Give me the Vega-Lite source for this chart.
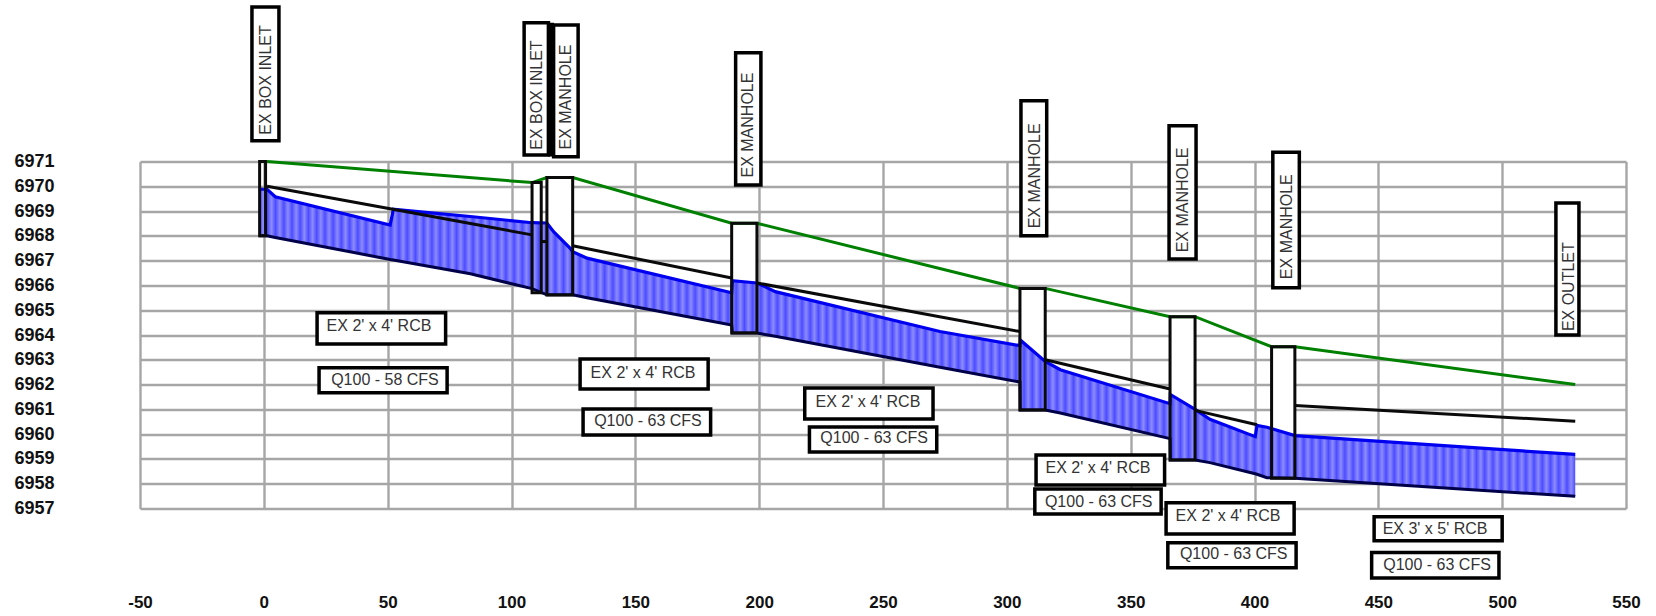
{
"$schema":"https://vega.github.io/schema/vega-lite/v6.json",
"width":1486,"height":347,"autosize":"none",
"padding":{"left":140,"top":161.5,"right":30,"bottom":107.5},
"background":"white",
"config":{"view":{"stroke":null}},
"datasets":{
"boxes":[
{"x":-1.7,"x2":0.7,"y":6971,"y2":6968},
{"x":108.3,"x2":112,"y":6970.15,"y2":6965.7},
{"x":114.3,"x2":124.7,"y":6970.35,"y2":6965.61},
{"x":188.9,"x2":199.1,"y":6968.51,"y2":6964.08},
{"x":305.3,"x2":315.5,"y":6965.88,"y2":6960.97},
{"x":365.9,"x2":376,"y":6964.74,"y2":6958.96},
{"x":406.9,"x2":416.3,"y":6963.53,"y2":6958.22}],
"water":[
{"x":-1.9,"surface":6969.88,"invert":6968},
{"x":1.3,"surface":6969.88,"invert":6968},
{"x":4.6,"surface":6969.58,"invert":6967.93},
{"x":51,"surface":6968.44,"invert":6967.05},
{"x":52.3,"surface":6969.07,"invert":6967.03},
{"x":83.4,"surface":6968.78,"invert":6966.47},
{"x":108.3,"surface":6968.53,"invert":6965.87},
{"x":114.3,"surface":6968.52,"invert":6965.62},
{"x":117,"surface":6968.17,"invert":6965.62},
{"x":123.7,"surface":6967.5,"invert":6965.62},
{"x":124.7,"surface":6967.36,"invert":6965.62},
{"x":130.5,"surface":6967.1,"invert":6965.5},
{"x":188.9,"surface":6965.7,"invert":6964.4},
{"x":189.2,"surface":6966.19,"invert":6964.08},
{"x":199.1,"surface":6966.1,"invert":6964.08},
{"x":206.5,"surface":6965.75,"invert":6963.95},
{"x":273,"surface":6964.14,"invert":6962.7},
{"x":305.3,"surface":6963.57,"invert":6962.1},
{"x":305.4,"surface":6963.8,"invert":6960.97},
{"x":315.5,"surface":6962.93,"invert":6960.97},
{"x":321.6,"surface":6962.6,"invert":6960.85},
{"x":365.9,"surface":6961.23,"invert":6959.82},
{"x":366,"surface":6961.6,"invert":6958.96},
{"x":376,"surface":6961,"invert":6958.96},
{"x":382,"surface":6960.6,"invert":6958.85},
{"x":400.3,"surface":6959.9,"invert":6958.4},
{"x":401,"surface":6960.35,"invert":6958.38},
{"x":405,"surface":6960.28,"invert":6958.24},
{"x":416.3,"surface":6959.94,"invert":6958.22},
{"x":529.5,"surface":6959.18,"invert":6957.49}],
"crown":[
{"seg":0,"x":1.3,"y":6970},{"seg":0,"x":51,"y":6969.09},{"seg":0,"x":83.4,"y":6968.5},{"seg":0,"x":108.3,"y":6968.04},
{"seg":1,"x":112,"y":6967.77},{"seg":1,"x":114.3,"y":6967.77},
{"seg":2,"x":124.7,"y":6967.6},{"seg":2,"x":188.9,"y":6966.3},
{"seg":3,"x":199.1,"y":6966.1},{"seg":3,"x":305.3,"y":6964.14},
{"seg":4,"x":315.5,"y":6963},{"seg":4,"x":365.9,"y":6961.82},
{"seg":5,"x":376,"y":6960.96},{"seg":5,"x":401,"y":6960.38},
{"seg":6,"x":416.3,"y":6961.16},{"seg":6,"x":529.5,"y":6960.52}],
"energy":[
{"x":1.3,"y":6971},{"x":108.3,"y":6970.15},{"x":114.3,"y":6970.35},{"x":124.7,"y":6970.35},{"x":188.9,"y":6968.51},{"x":199.1,"y":6968.51},{"x":305.3,"y":6965.88},{"x":315.5,"y":6965.88},{"x":365.9,"y":6964.74},{"x":376,"y":6964.74},{"x":406.9,"y":6963.53},{"x":416.3,"y":6963.53},{"x":529.5,"y":6962}],
"divider":[{"x":114.7,"x2":117.2,"y":6976.6,"y2":6971.2}],
"labels":[
{"x":21.5,"x2":73.4,"y":6964.9,"y2":6963.64,"tx":46.5,"ty":6964.36,"t":"EX 2' x 4' RCB","o":"h"},
{"x":22.3,"x2":74,"y":6962.68,"y2":6961.67,"tx":48.9,"ty":6962.18,"t":"Q100 - 58 CFS","o":"h"},
{"x":127.7,"x2":179.4,"y":6963.03,"y2":6961.82,"tx":153.1,"ty":6962.47,"t":"EX 2' x 4' RCB","o":"h"},
{"x":128.9,"x2":180.4,"y":6961.01,"y2":6959.97,"tx":155.1,"ty":6960.53,"t":"Q100 - 63 CFS","o":"h"},
{"x":218.4,"x2":270.2,"y":6961.86,"y2":6960.61,"tx":243.9,"ty":6961.31,"t":"EX 2' x 4' RCB","o":"h"},
{"x":220.3,"x2":271.7,"y":6960.29,"y2":6959.28,"tx":246.4,"ty":6959.84,"t":"Q100 - 63 CFS","o":"h"},
{"x":311.8,"x2":363.7,"y":6959.16,"y2":6957.95,"tx":336.8,"ty":6958.65,"t":"EX 2' x 4' RCB","o":"h"},
{"x":311.3,"x2":362.3,"y":6957.79,"y2":6956.78,"tx":337.1,"ty":6957.27,"t":"Q100 - 63 CFS","o":"h"},
{"x":364.3,"x2":416,"y":6957.23,"y2":6955.97,"tx":389.3,"ty":6956.7,"t":"EX 2' x 4' RCB","o":"h"},
{"x":365,"x2":416.8,"y":6955.62,"y2":6954.61,"tx":391.6,"ty":6955.16,"t":"Q100 - 63 CFS","o":"h"},
{"x":448.3,"x2":500,"y":6956.67,"y2":6955.7,"tx":472.9,"ty":6956.17,"t":"EX 3' x 5' RCB","o":"h"},
{"x":447.3,"x2":498.7,"y":6955.22,"y2":6954.2,"tx":473.7,"ty":6954.72,"t":"Q100 - 63 CFS","o":"h"},
{"x":-4.8,"x2":6.1,"y":6977.23,"y2":6971.84,"tx":0.9,"ty":6974.29,"t":"EX BOX INLET","o":"v"},
{"x":105.1,"x2":114.9,"y":6976.6,"y2":6971.26,"tx":110.3,"ty":6973.68,"t":"EX BOX INLET","o":"v"},
{"x":117,"x2":126.9,"y":6976.51,"y2":6971.19,"tx":121.9,"ty":6973.6,"t":"EX MANHOLE","o":"v"},
{"x":190.5,"x2":200.7,"y":6975.39,"y2":6970.05,"tx":195.5,"ty":6972.47,"t":"EX MANHOLE","o":"v"},
{"x":305.7,"x2":316.1,"y":6973.45,"y2":6968,"tx":311.4,"ty":6970.42,"t":"EX MANHOLE","o":"v"},
{"x":365.5,"x2":376.4,"y":6972.44,"y2":6967.07,"tx":371,"ty":6969.45,"t":"EX MANHOLE","o":"v"},
{"x":407.4,"x2":418.1,"y":6971.37,"y2":6965.91,"tx":413,"ty":6968.37,"t":"EX MANHOLE","o":"v"},
{"x":521.7,"x2":531,"y":6969.33,"y2":6964,"tx":527,"ty":6965.95,"t":"EX OUTLET","o":"v"}]
},
"encoding":{
"x":{"field":"x","type":"quantitative","title":null,"scale":{"domain":[-50,550],"nice":false,"zero":false},
"axis":{"values":[-50,0,50,100,150,200,250,300,350,400,450,500,550],"labelExpr":"'' + datum.value","grid":true,"gridColor":"#a6a6a6","gridWidth":2.4,"domain":false,"ticks":false,"labelPadding":86,"labelFont":"Liberation Sans","labelFontWeight":"bold","labelFontSize":17,"labelColor":"#111111","labelFlush":false,"labelOverlap":false,"title":null}},
"y":{"field":"y","type":"quantitative","title":null,"scale":{"domain":[6957,6971],"nice":false,"zero":false},
"axis":{"values":[6957,6958,6959,6960,6961,6962,6963,6964,6965,6966,6967,6968,6969,6970,6971],"format":"d","grid":true,"gridColor":"#a6a6a6","gridWidth":2.4,"domain":false,"ticks":false,"labelPadding":86,"labelFont":"Liberation Sans","labelFontWeight":"bold","labelFontSize":18,"labelColor":"#111111","labelOverlap":false,"title":null}}
},
"layer":[
{"data":{"name":"boxes"},"transform":[{"filter":"datum.x>0"}],"mark":{"type":"rect","fill":"white","stroke":null},"encoding":{"x2":{"field":"x2"},"y2":{"field":"y2"}}},
{"data":{"name":"water"},"mark":{"type":"area","opacity":1,"interpolate":"linear","color":{"gradient":"linear","x1":0,"y1":0,"x2":1,"y2":0,"stops":[
{"offset":0,"color":"#4c4cff"},{"offset":0.0031,"color":"#8c8cff"},{"offset":0.0063,"color":"#4c4cff"},{"offset":0.0094,"color":"#8c8cff"},
{"offset":0.0125,"color":"#4c4cff"},{"offset":0.0156,"color":"#8c8cff"},{"offset":0.0188,"color":"#4c4cff"},{"offset":0.0219,"color":"#8c8cff"},
{"offset":0.025,"color":"#4c4cff"},{"offset":0.0281,"color":"#8c8cff"},{"offset":0.0313,"color":"#4c4cff"},{"offset":0.0344,"color":"#8c8cff"},
{"offset":0.0375,"color":"#4c4cff"},{"offset":0.0406,"color":"#8c8cff"},{"offset":0.0438,"color":"#4c4cff"},{"offset":0.0469,"color":"#8c8cff"},
{"offset":0.05,"color":"#4c4cff"},{"offset":0.0531,"color":"#8c8cff"},{"offset":0.0563,"color":"#4c4cff"},{"offset":0.0594,"color":"#8c8cff"},
{"offset":0.0625,"color":"#4c4cff"},{"offset":0.0656,"color":"#8c8cff"},{"offset":0.0688,"color":"#4c4cff"},{"offset":0.0719,"color":"#8c8cff"},
{"offset":0.075,"color":"#4c4cff"},{"offset":0.0781,"color":"#8c8cff"},{"offset":0.0813,"color":"#4c4cff"},{"offset":0.0844,"color":"#8c8cff"},
{"offset":0.0875,"color":"#4c4cff"},{"offset":0.0906,"color":"#8c8cff"},{"offset":0.0938,"color":"#4c4cff"},{"offset":0.0969,"color":"#8c8cff"},
{"offset":0.1,"color":"#4c4cff"},{"offset":0.1031,"color":"#8c8cff"},{"offset":0.1063,"color":"#4c4cff"},{"offset":0.1094,"color":"#8c8cff"},
{"offset":0.1125,"color":"#4c4cff"},{"offset":0.1156,"color":"#8c8cff"},{"offset":0.1188,"color":"#4c4cff"},{"offset":0.1219,"color":"#8c8cff"},
{"offset":0.125,"color":"#4c4cff"},{"offset":0.1281,"color":"#8c8cff"},{"offset":0.1313,"color":"#4c4cff"},{"offset":0.1344,"color":"#8c8cff"},
{"offset":0.1375,"color":"#4c4cff"},{"offset":0.1406,"color":"#8c8cff"},{"offset":0.1438,"color":"#4c4cff"},{"offset":0.1469,"color":"#8c8cff"},
{"offset":0.15,"color":"#4c4cff"},{"offset":0.1531,"color":"#8c8cff"},{"offset":0.1563,"color":"#4c4cff"},{"offset":0.1594,"color":"#8c8cff"},
{"offset":0.1625,"color":"#4c4cff"},{"offset":0.1656,"color":"#8c8cff"},{"offset":0.1688,"color":"#4c4cff"},{"offset":0.1719,"color":"#8c8cff"},
{"offset":0.175,"color":"#4c4cff"},{"offset":0.1781,"color":"#8c8cff"},{"offset":0.1813,"color":"#4c4cff"},{"offset":0.1844,"color":"#8c8cff"},
{"offset":0.1875,"color":"#4c4cff"},{"offset":0.1906,"color":"#8c8cff"},{"offset":0.1938,"color":"#4c4cff"},{"offset":0.1969,"color":"#8c8cff"},
{"offset":0.2,"color":"#4c4cff"},{"offset":0.2031,"color":"#8c8cff"},{"offset":0.2063,"color":"#4c4cff"},{"offset":0.2094,"color":"#8c8cff"},
{"offset":0.2125,"color":"#4c4cff"},{"offset":0.2156,"color":"#8c8cff"},{"offset":0.2188,"color":"#4c4cff"},{"offset":0.2219,"color":"#8c8cff"},
{"offset":0.225,"color":"#4c4cff"},{"offset":0.2281,"color":"#8c8cff"},{"offset":0.2313,"color":"#4c4cff"},{"offset":0.2344,"color":"#8c8cff"},
{"offset":0.2375,"color":"#4c4cff"},{"offset":0.2406,"color":"#8c8cff"},{"offset":0.2438,"color":"#4c4cff"},{"offset":0.2469,"color":"#8c8cff"},
{"offset":0.25,"color":"#4c4cff"},{"offset":0.2531,"color":"#8c8cff"},{"offset":0.2563,"color":"#4c4cff"},{"offset":0.2594,"color":"#8c8cff"},
{"offset":0.2625,"color":"#4c4cff"},{"offset":0.2656,"color":"#8c8cff"},{"offset":0.2688,"color":"#4c4cff"},{"offset":0.2719,"color":"#8c8cff"},
{"offset":0.275,"color":"#4c4cff"},{"offset":0.2781,"color":"#8c8cff"},{"offset":0.2813,"color":"#4c4cff"},{"offset":0.2844,"color":"#8c8cff"},
{"offset":0.2875,"color":"#4c4cff"},{"offset":0.2906,"color":"#8c8cff"},{"offset":0.2938,"color":"#4c4cff"},{"offset":0.2969,"color":"#8c8cff"},
{"offset":0.3,"color":"#4c4cff"},{"offset":0.3031,"color":"#8c8cff"},{"offset":0.3063,"color":"#4c4cff"},{"offset":0.3094,"color":"#8c8cff"},
{"offset":0.3125,"color":"#4c4cff"},{"offset":0.3156,"color":"#8c8cff"},{"offset":0.3188,"color":"#4c4cff"},{"offset":0.3219,"color":"#8c8cff"},
{"offset":0.325,"color":"#4c4cff"},{"offset":0.3281,"color":"#8c8cff"},{"offset":0.3313,"color":"#4c4cff"},{"offset":0.3344,"color":"#8c8cff"},
{"offset":0.3375,"color":"#4c4cff"},{"offset":0.3406,"color":"#8c8cff"},{"offset":0.3438,"color":"#4c4cff"},{"offset":0.3469,"color":"#8c8cff"},
{"offset":0.35,"color":"#4c4cff"},{"offset":0.3531,"color":"#8c8cff"},{"offset":0.3563,"color":"#4c4cff"},{"offset":0.3594,"color":"#8c8cff"},
{"offset":0.3625,"color":"#4c4cff"},{"offset":0.3656,"color":"#8c8cff"},{"offset":0.3688,"color":"#4c4cff"},{"offset":0.3719,"color":"#8c8cff"},
{"offset":0.375,"color":"#4c4cff"},{"offset":0.3781,"color":"#8c8cff"},{"offset":0.3813,"color":"#4c4cff"},{"offset":0.3844,"color":"#8c8cff"},
{"offset":0.3875,"color":"#4c4cff"},{"offset":0.3906,"color":"#8c8cff"},{"offset":0.3938,"color":"#4c4cff"},{"offset":0.3969,"color":"#8c8cff"},
{"offset":0.4,"color":"#4c4cff"},{"offset":0.4031,"color":"#8c8cff"},{"offset":0.4063,"color":"#4c4cff"},{"offset":0.4094,"color":"#8c8cff"},
{"offset":0.4125,"color":"#4c4cff"},{"offset":0.4156,"color":"#8c8cff"},{"offset":0.4188,"color":"#4c4cff"},{"offset":0.4219,"color":"#8c8cff"},
{"offset":0.425,"color":"#4c4cff"},{"offset":0.4281,"color":"#8c8cff"},{"offset":0.4313,"color":"#4c4cff"},{"offset":0.4344,"color":"#8c8cff"},
{"offset":0.4375,"color":"#4c4cff"},{"offset":0.4406,"color":"#8c8cff"},{"offset":0.4438,"color":"#4c4cff"},{"offset":0.4469,"color":"#8c8cff"},
{"offset":0.45,"color":"#4c4cff"},{"offset":0.4531,"color":"#8c8cff"},{"offset":0.4563,"color":"#4c4cff"},{"offset":0.4594,"color":"#8c8cff"},
{"offset":0.4625,"color":"#4c4cff"},{"offset":0.4656,"color":"#8c8cff"},{"offset":0.4688,"color":"#4c4cff"},{"offset":0.4719,"color":"#8c8cff"},
{"offset":0.475,"color":"#4c4cff"},{"offset":0.4781,"color":"#8c8cff"},{"offset":0.4813,"color":"#4c4cff"},{"offset":0.4844,"color":"#8c8cff"},
{"offset":0.4875,"color":"#4c4cff"},{"offset":0.4906,"color":"#8c8cff"},{"offset":0.4938,"color":"#4c4cff"},{"offset":0.4969,"color":"#8c8cff"},
{"offset":0.5,"color":"#4c4cff"},{"offset":0.5031,"color":"#8c8cff"},{"offset":0.5063,"color":"#4c4cff"},{"offset":0.5094,"color":"#8c8cff"},
{"offset":0.5125,"color":"#4c4cff"},{"offset":0.5156,"color":"#8c8cff"},{"offset":0.5188,"color":"#4c4cff"},{"offset":0.5219,"color":"#8c8cff"},
{"offset":0.525,"color":"#4c4cff"},{"offset":0.5281,"color":"#8c8cff"},{"offset":0.5313,"color":"#4c4cff"},{"offset":0.5344,"color":"#8c8cff"},
{"offset":0.5375,"color":"#4c4cff"},{"offset":0.5406,"color":"#8c8cff"},{"offset":0.5438,"color":"#4c4cff"},{"offset":0.5469,"color":"#8c8cff"},
{"offset":0.55,"color":"#4c4cff"},{"offset":0.5531,"color":"#8c8cff"},{"offset":0.5563,"color":"#4c4cff"},{"offset":0.5594,"color":"#8c8cff"},
{"offset":0.5625,"color":"#4c4cff"},{"offset":0.5656,"color":"#8c8cff"},{"offset":0.5688,"color":"#4c4cff"},{"offset":0.5719,"color":"#8c8cff"},
{"offset":0.575,"color":"#4c4cff"},{"offset":0.5781,"color":"#8c8cff"},{"offset":0.5813,"color":"#4c4cff"},{"offset":0.5844,"color":"#8c8cff"},
{"offset":0.5875,"color":"#4c4cff"},{"offset":0.5906,"color":"#8c8cff"},{"offset":0.5938,"color":"#4c4cff"},{"offset":0.5969,"color":"#8c8cff"},
{"offset":0.6,"color":"#4c4cff"},{"offset":0.6031,"color":"#8c8cff"},{"offset":0.6063,"color":"#4c4cff"},{"offset":0.6094,"color":"#8c8cff"},
{"offset":0.6125,"color":"#4c4cff"},{"offset":0.6156,"color":"#8c8cff"},{"offset":0.6188,"color":"#4c4cff"},{"offset":0.6219,"color":"#8c8cff"},
{"offset":0.625,"color":"#4c4cff"},{"offset":0.6281,"color":"#8c8cff"},{"offset":0.6313,"color":"#4c4cff"},{"offset":0.6344,"color":"#8c8cff"},
{"offset":0.6375,"color":"#4c4cff"},{"offset":0.6406,"color":"#8c8cff"},{"offset":0.6438,"color":"#4c4cff"},{"offset":0.6469,"color":"#8c8cff"},
{"offset":0.65,"color":"#4c4cff"},{"offset":0.6531,"color":"#8c8cff"},{"offset":0.6563,"color":"#4c4cff"},{"offset":0.6594,"color":"#8c8cff"},
{"offset":0.6625,"color":"#4c4cff"},{"offset":0.6656,"color":"#8c8cff"},{"offset":0.6688,"color":"#4c4cff"},{"offset":0.6719,"color":"#8c8cff"},
{"offset":0.675,"color":"#4c4cff"},{"offset":0.6781,"color":"#8c8cff"},{"offset":0.6813,"color":"#4c4cff"},{"offset":0.6844,"color":"#8c8cff"},
{"offset":0.6875,"color":"#4c4cff"},{"offset":0.6906,"color":"#8c8cff"},{"offset":0.6938,"color":"#4c4cff"},{"offset":0.6969,"color":"#8c8cff"},
{"offset":0.7,"color":"#4c4cff"},{"offset":0.7031,"color":"#8c8cff"},{"offset":0.7063,"color":"#4c4cff"},{"offset":0.7094,"color":"#8c8cff"},
{"offset":0.7125,"color":"#4c4cff"},{"offset":0.7156,"color":"#8c8cff"},{"offset":0.7188,"color":"#4c4cff"},{"offset":0.7219,"color":"#8c8cff"},
{"offset":0.725,"color":"#4c4cff"},{"offset":0.7281,"color":"#8c8cff"},{"offset":0.7313,"color":"#4c4cff"},{"offset":0.7344,"color":"#8c8cff"},
{"offset":0.7375,"color":"#4c4cff"},{"offset":0.7406,"color":"#8c8cff"},{"offset":0.7438,"color":"#4c4cff"},{"offset":0.7469,"color":"#8c8cff"},
{"offset":0.75,"color":"#4c4cff"},{"offset":0.7531,"color":"#8c8cff"},{"offset":0.7563,"color":"#4c4cff"},{"offset":0.7594,"color":"#8c8cff"},
{"offset":0.7625,"color":"#4c4cff"},{"offset":0.7656,"color":"#8c8cff"},{"offset":0.7688,"color":"#4c4cff"},{"offset":0.7719,"color":"#8c8cff"},
{"offset":0.775,"color":"#4c4cff"},{"offset":0.7781,"color":"#8c8cff"},{"offset":0.7813,"color":"#4c4cff"},{"offset":0.7844,"color":"#8c8cff"},
{"offset":0.7875,"color":"#4c4cff"},{"offset":0.7906,"color":"#8c8cff"},{"offset":0.7938,"color":"#4c4cff"},{"offset":0.7969,"color":"#8c8cff"},
{"offset":0.8,"color":"#4c4cff"},{"offset":0.8031,"color":"#8c8cff"},{"offset":0.8063,"color":"#4c4cff"},{"offset":0.8094,"color":"#8c8cff"},
{"offset":0.8125,"color":"#4c4cff"},{"offset":0.8156,"color":"#8c8cff"},{"offset":0.8188,"color":"#4c4cff"},{"offset":0.8219,"color":"#8c8cff"},
{"offset":0.825,"color":"#4c4cff"},{"offset":0.8281,"color":"#8c8cff"},{"offset":0.8313,"color":"#4c4cff"},{"offset":0.8344,"color":"#8c8cff"},
{"offset":0.8375,"color":"#4c4cff"},{"offset":0.8406,"color":"#8c8cff"},{"offset":0.8438,"color":"#4c4cff"},{"offset":0.8469,"color":"#8c8cff"},
{"offset":0.85,"color":"#4c4cff"},{"offset":0.8531,"color":"#8c8cff"},{"offset":0.8563,"color":"#4c4cff"},{"offset":0.8594,"color":"#8c8cff"},
{"offset":0.8625,"color":"#4c4cff"},{"offset":0.8656,"color":"#8c8cff"},{"offset":0.8688,"color":"#4c4cff"},{"offset":0.8719,"color":"#8c8cff"},
{"offset":0.875,"color":"#4c4cff"},{"offset":0.8781,"color":"#8c8cff"},{"offset":0.8813,"color":"#4c4cff"},{"offset":0.8844,"color":"#8c8cff"},
{"offset":0.8875,"color":"#4c4cff"},{"offset":0.8906,"color":"#8c8cff"},{"offset":0.8938,"color":"#4c4cff"},{"offset":0.8969,"color":"#8c8cff"},
{"offset":0.9,"color":"#4c4cff"},{"offset":0.9031,"color":"#8c8cff"},{"offset":0.9063,"color":"#4c4cff"},{"offset":0.9094,"color":"#8c8cff"},
{"offset":0.9125,"color":"#4c4cff"},{"offset":0.9156,"color":"#8c8cff"},{"offset":0.9188,"color":"#4c4cff"},{"offset":0.9219,"color":"#8c8cff"},
{"offset":0.925,"color":"#4c4cff"},{"offset":0.9281,"color":"#8c8cff"},{"offset":0.9313,"color":"#4c4cff"},{"offset":0.9344,"color":"#8c8cff"},
{"offset":0.9375,"color":"#4c4cff"},{"offset":0.9406,"color":"#8c8cff"},{"offset":0.9438,"color":"#4c4cff"},{"offset":0.9469,"color":"#8c8cff"},
{"offset":0.95,"color":"#4c4cff"},{"offset":0.9531,"color":"#8c8cff"},{"offset":0.9563,"color":"#4c4cff"},{"offset":0.9594,"color":"#8c8cff"},
{"offset":0.9625,"color":"#4c4cff"},{"offset":0.9656,"color":"#8c8cff"},{"offset":0.9688,"color":"#4c4cff"},{"offset":0.9719,"color":"#8c8cff"},
{"offset":0.975,"color":"#4c4cff"},{"offset":0.9781,"color":"#8c8cff"},{"offset":0.9813,"color":"#4c4cff"},{"offset":0.9844,"color":"#8c8cff"},
{"offset":0.9875,"color":"#4c4cff"},{"offset":0.9906,"color":"#8c8cff"},{"offset":0.9938,"color":"#4c4cff"},{"offset":0.9969,"color":"#8c8cff"},
{"offset":1,"color":"#4c4cff"}]}},"encoding":{"y":{"field":"surface","type":"quantitative","title":null},"y2":{"field":"invert"}}},
{"data":{"name":"water"},"mark":{"type":"line","color":"#00004a","strokeWidth":3},"encoding":{"y":{"field":"invert","type":"quantitative","title":null}}},
{"data":{"name":"water"},"mark":{"type":"line","color":"#0000f0","strokeWidth":3.2},"encoding":{"y":{"field":"surface","type":"quantitative","title":null}}},
{"data":{"name":"crown"},"mark":{"type":"line","color":"#0a0a0a","strokeWidth":3},"encoding":{"detail":{"field":"seg"}}},
{"data":{"name":"energy"},"mark":{"type":"line","color":"#008000","strokeWidth":3},"encoding":{}},
{"data":{"name":"boxes"},"mark":{"type":"rect","fill":null,"stroke":"#0a0a0a","strokeWidth":3},"encoding":{"x2":{"field":"x2"},"y2":{"field":"y2"}}},
{"data":{"name":"divider"},"mark":{"type":"rect","fill":"#000000"},"encoding":{"x2":{"field":"x2"},"y2":{"field":"y2"}}},
{"data":{"name":"labels"},"mark":{"type":"rect","fill":"white","stroke":"#000000","strokeWidth":3.5},"encoding":{"x2":{"field":"x2"},"y2":{"field":"y2"}}},
{"data":{"name":"labels"},"transform":[{"filter":"datum.o=='h'"}],"mark":{"type":"text","font":"Liberation Sans","fontSize":16,"color":"#333333","align":"center","baseline":"middle"},"encoding":{"x":{"field":"tx","type":"quantitative","title":null},"y":{"field":"ty","type":"quantitative","title":null},"text":{"field":"t"}}},
{"data":{"name":"labels"},"transform":[{"filter":"datum.o=='v'"}],"mark":{"type":"text","font":"Liberation Sans","fontSize":16,"color":"#333333","align":"center","baseline":"middle","angle":270},"encoding":{"x":{"field":"tx","type":"quantitative","title":null},"y":{"field":"ty","type":"quantitative","title":null},"text":{"field":"t"}}}
]
}
